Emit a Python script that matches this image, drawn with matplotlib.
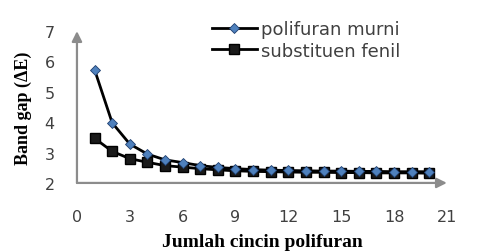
import numpy as np
import matplotlib.pyplot as plt

# ── Data ───────────────────────────────────────────────────────────────────
rings = list(range(1, 21))
polifuran_murni = [5.73, 3.98, 3.28, 2.95, 2.76, 2.67, 2.57, 2.51, 2.47, 2.44,
                   2.42, 2.41, 2.40, 2.39, 2.39, 2.38, 2.38, 2.37, 2.37, 2.37]
substituen_fenil = [3.47, 3.04, 2.80, 2.68, 2.57, 2.52, 2.47, 2.43, 2.40, 2.38,
                    2.37, 2.36, 2.35, 2.35, 2.34, 2.34, 2.33, 2.33, 2.33, 2.32]
x_ticks = [0, 3, 6, 9, 12, 15, 18, 21]
y_ticks = [2, 3, 4, 5, 6, 7]

# ── Figure ─────────────────────────────────────────────────────────────────
fig = plt.figure(figsize=(4.81, 2.53), dpi=100)
ax = fig.add_axes([0.160, 0.273, 0.769, 0.600])

ax.plot(rings, polifuran_murni, color="black", lw=2, marker="D",
        markersize=5.5, markerfacecolor="#4F81BD", markeredgecolor="#1F3F6F",
        markeredgewidth=0.6, label="polifuran murni", zorder=3)
ax.plot(rings, substituen_fenil, color="black", lw=2, marker="s",
        markersize=7.5, markerfacecolor="#1a1a1a", markeredgecolor="black",
        label="substituen fenil", zorder=2)

ax.set_xlim(0, 21)
ax.set_ylim(2, 7)
ax.set_xticks(x_ticks)
ax.set_yticks(y_ticks)
for s in ax.spines.values():
    s.set_visible(False)
ax.tick_params(length=0, labelsize=11.5, colors="#404040", labelcolor="#404040")
ax.tick_params(axis="x", pad=19)
ax.tick_params(axis="y", pad=16)

# arrow-style axes
arrow = dict(arrowstyle="-|>,head_length=0.6,head_width=0.3", color="#8c8c8c",
             lw=1.6, shrinkA=0, shrinkB=0)
ax.annotate("", xy=(0, 1.0), xytext=(0, 0), xycoords="axes fraction",
            arrowprops=arrow, annotation_clip=False)
ax.annotate("", xy=(1.0, 0), xytext=(0, 0), xycoords="axes fraction",
            arrowprops=arrow, annotation_clip=False)

ax.set_ylabel("Band gap (ΔE)", family="Liberation Serif", fontweight="bold",
              fontsize=13, labelpad=9)
ax.set_xlabel("Jumlah cincin polifuran", family="Liberation Serif",
              fontweight="bold", fontsize=14, labelpad=6)

ax.legend(loc="upper left", bbox_to_anchor=(0.345, 1.12), frameon=False,
          prop={"family": "DejaVu Sans", "size": 13}, handlelength=2.5,
          handletextpad=0.2, labelspacing=0.2, borderaxespad=0)
for t in ax.get_legend().get_texts():
    t.set_color("#404040")

fig.savefig("out.png", dpi=100)
